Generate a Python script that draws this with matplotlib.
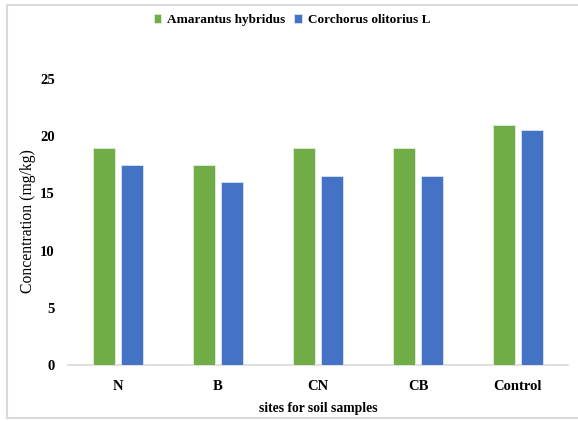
import matplotlib
matplotlib.use("Agg")
import matplotlib.pyplot as plt
import numpy as np
from matplotlib.lines import Line2D

sites = ["N", "B", "CN", "CB", "Control"]
amarantus = [19.0, 17.5, 19.0, 19.0, 21.0]
corchorus = [17.5, 16.0, 16.5, 16.5, 20.5]
series_names = ["Amarantus hybridus", "Corchorus olitorius L"]
yticks = [0, 5, 10, 15, 20, 25]

green = "#70AD47"
blue = "#4472C4"
grid_grey = "#D9D9D9"

plt.rcParams["font.family"] = ["Liberation Serif", "DejaVu Serif"]

fig = plt.figure(figsize=(5.78, 4.21), dpi=100)
ax = fig.add_axes([68 / 578, 1 - 365 / 421, 500 / 578, (365 - 79) / 421])

x = np.arange(len(sites))
w = 0.225
gap = 0.057
ax.bar(x - (w + gap) / 2, amarantus, width=w, color=green, edgecolor="#E2EFDA",
       linewidth=0.6, label=series_names[0], zorder=3)
ax.bar(x + (w + gap) / 2, corchorus, width=w, color=blue, edgecolor="#DAE3F3",
       linewidth=0.6, label=series_names[1], zorder=3)

ax.set_xlim(-0.5, len(sites) - 0.5)
ax.set_ylim(0, 25)
ax.set_yticks(yticks)
ax.set_yticklabels([str(v) for v in yticks], fontsize=10.5, fontweight="bold")
ax.set_xticks(x)
ax.set_xticklabels(sites, fontsize=10.5, fontweight="bold")
ax.tick_params(axis="both", length=0)
ax.tick_params(axis="y", pad=9.5)
ax.tick_params(axis="x", pad=10.5)

for s in ["top", "right", "left"]:
    ax.spines[s].set_visible(False)
ax.spines["bottom"].set_color(grid_grey)
ax.spines["bottom"].set_linewidth(1.2)

ax.set_ylabel("Concentration (mg/kg)", fontsize=11.3)
ax.yaxis.set_label_coords((36 - 68) / 500, (365 - 221) / 286)
ax.set_xlabel("sites for soil samples", fontsize=9.8, fontweight="bold", labelpad=6.5)

ax.legend(loc="center", bbox_to_anchor=(292 / 578, 1 - 20 / 421),
          bbox_transform=fig.transFigure, ncol=2, frameon=False,
          prop={"weight": "bold", "size": 9.5}, handlelength=0.55,
          handleheight=0.6, handletextpad=0.45, columnspacing=0.7)

# light frame around the chart area (left, top, bottom edges)
frame_kw = dict(color=grid_grey, linewidth=1.5, transform=fig.transFigure)
fig.add_artist(Line2D([7 / 578, 7 / 578], [1 - 4.5 / 421, 1 - 418 / 421], **frame_kw))
fig.add_artist(Line2D([7 / 578, 1], [1 - 4.5 / 421, 1 - 4.5 / 421], **frame_kw))
fig.add_artist(Line2D([7 / 578, 1], [1 - 418 / 421, 1 - 418 / 421], **frame_kw))

fig.savefig("out.png", dpi=100)
